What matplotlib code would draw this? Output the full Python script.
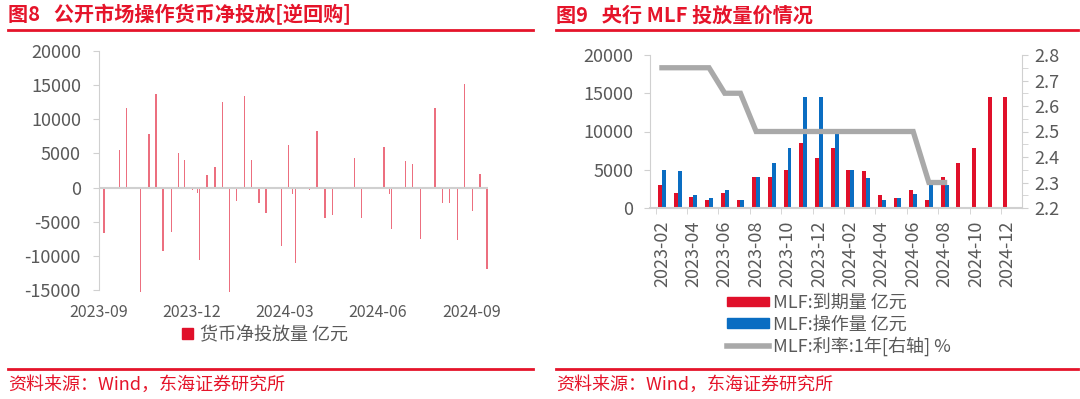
import matplotlib
matplotlib.use('Agg')
import matplotlib.pyplot as plt
import matplotlib.dates as mdates
from matplotlib.patches import Patch
from matplotlib.lines import Line2D
import numpy as np
import pandas as pd

plt.rcParams['font.family'] = ['Noto Sans CJK SC', 'DejaVu Sans']
plt.rcParams['axes.unicode_minus'] = False

# colors
red = '#E0102A'
blue = '#0A6DC2'
grey_line = '#A9A9A9'
title_red = '#E5142A'
txt = '#595959'
spine = '#D0D0D0'

# fig 8: net injection via reverse repo (亿元)
net_dates = ['2023-09-06', '2023-09-21', '2023-09-28', '2023-10-12', '2023-10-20', '2023-10-27',
             '2023-11-03', '2023-11-11', '2023-11-18', '2023-11-24', '2023-12-02', '2023-12-07',
             '2023-12-09', '2023-12-16', '2023-12-24', '2023-12-31', '2024-01-07', '2024-01-14',
             '2024-01-22', '2024-01-29', '2024-02-05', '2024-02-12', '2024-02-27', '2024-03-05',
             '2024-03-09', '2024-03-12', '2024-03-26', '2024-04-02', '2024-04-10', '2024-04-17',
             '2024-05-09', '2024-05-16', '2024-06-07', '2024-06-12', '2024-06-14', '2024-06-28',
             '2024-07-05', '2024-07-13', '2024-07-27', '2024-08-03', '2024-08-10', '2024-08-18',
             '2024-08-25', '2024-09-02', '2024-09-09', '2024-09-16']
net_values = [-6700, 5500, 11600, -15300, 7900, 13700,
              -9300, -6500, 5100, 4000, -400, -800,
              -10600, 1900, 3000, 12500, -15300, -1900,
              13400, 4100, -2300, -3700, -8500, 6200,
              -900, -11000, -300, 8300, -4500, -4000,
              4400, -4500, 6000, -900, -6000, 3900,
              3500, -7500, 11700, -2200, -2300, -7700,
              15200, -3500, 1950, -11900]
net_ticks = ['2023-09-01', '2023-12-01', '2024-03-01', '2024-06-01', '2024-09-01']

# fig 9: MLF
mlf_months = ['2023-02', '2023-03', '2023-04', '2023-05', '2023-06', '2023-07', '2023-08',
              '2023-09', '2023-10', '2023-11', '2023-12', '2024-01', '2024-02', '2024-03',
              '2024-04', '2024-05', '2024-06', '2024-07', '2024-08', '2024-09', '2024-10',
              '2024-11', '2024-12']
mlf_due = [3000, 2000, 1500, 1000, 2000, 1000, 4000, 4000, 5000, 8500, 6500, 7790,
           4990, 4810, 1700, 1250, 2370, 1030, 4010, 5910, 7890, 14500, 14500]
mlf_ops = [4990, 4810, 1700, 1250, 2370, 1030, 4010, 5910, 7890, 14500, 14500, 9950,
           5000, 3870, 1000, 1250, 1820, 3000, 3000]
mlf_rate = [2.75, 2.75, 2.75, 2.75, 2.65, 2.65, 2.50, 2.50, 2.50, 2.50, 2.50, 2.50,
            2.50, 2.50, 2.50, 2.50, 2.50, 2.30, 2.30]

fig = plt.figure(figsize=(10.8, 3.99), dpi=100)
W, H = 1080, 399


def fx(px):
    return px / W


def fy(py):
    return 1 - py / H


# headers / footers
for x0, x1, title in [(8, 533, '图8   公开市场操作货币净投放[逆回购]'),
                      (556, 1078, '图9   央行 MLF 投放量价情况')]:
    fig.text(fx(x0), fy(15), title, color=title_red, fontsize=14.5, fontweight='bold', va='center')
    fig.add_artist(Line2D([fx(x0), fx(x1)], [fy(30), fy(30)], color=title_red, lw=2))
    fig.add_artist(Line2D([fx(x0), fx(x1)], [fy(369), fy(369)], color=title_red, lw=2))
    fig.text(fx(x0), fy(385), '资料来源：Wind，东海证券研究所', color=title_red, fontsize=13, va='center')

# ---- fig 8
ax1 = fig.add_axes([fx(99), fy(290), fx(488 - 99), (290 - 51) / H])
d = pd.to_datetime(net_dates)
ax1.bar(d, net_values, width=1.3, color=red, alpha=0.6, clip_on=False)
ax1.axhline(0, color=spine, lw=1.5)
ax1.set_xlim(pd.Timestamp('2023-09-01'), pd.Timestamp('2024-09-17'))
ax1.set_ylim(-15000, 20000)
ax1.set_yticks(np.arange(-15000, 20001, 5000))
ax1.set_xticks(pd.to_datetime(net_ticks))
ax1.xaxis.set_major_formatter(mdates.DateFormatter('%Y-%m'))
for s in ['top', 'right', 'bottom']:
    ax1.spines[s].set_visible(False)
ax1.spines['left'].set_color(spine)
ax1.tick_params(axis='y', colors=spine, labelcolor=txt, labelsize=13, length=4, pad=9)
ax1.tick_params(axis='x', length=0, labelcolor=txt, labelsize=11.5, pad=10)
ax1.legend(handles=[Patch(color=red, label='货币净投放量 亿元')], loc='center',
           bbox_to_anchor=(fx(265), fy(335)), bbox_transform=fig.transFigure,
           frameon=False, fontsize=13, labelcolor=txt, handlelength=0.6, handleheight=0.6,
           handletextpad=0.4)

# ---- fig 9
ax2 = fig.add_axes([fx(650), fy(208), fx(1022 - 650), (208 - 55) / H])
x = np.arange(len(mlf_months))
bw = 0.25
ax2.bar(x - 0.125, mlf_due, width=bw, color=red)
ax2.bar(x[:len(mlf_ops)] + 0.125, mlf_ops, width=bw, color=blue)
ax2.set_xlim(-0.76, 22.93)
ax2.set_ylim(0, 20000)
ax2.set_yticks(np.arange(0, 20001, 5000))
ax2.set_xticks(x[::2])
ax2.set_xticklabels(mlf_months[::2], rotation=90)
ax2.set_xticks(x[::2] - 0.4, minor=True)
ax2.tick_params(axis='x', which='major', length=0, labelcolor=txt, labelsize=13, pad=9)
ax2.tick_params(axis='x', which='minor', length=4, color=spine)
ax2.tick_params(axis='y', colors=spine, labelcolor=txt, labelsize=13, length=4, pad=8)
for s in ['top', 'right']:
    ax2.spines[s].set_visible(False)
ax2.spines['left'].set_color(spine)
ax2.spines['bottom'].set_color(spine)
ax2.spines['bottom'].set_linewidth(1.5)

ax3 = ax2.twinx()
ax3.plot(x[:len(mlf_rate)], mlf_rate, color=grey_line, lw=3.8, solid_joinstyle='miter')
ax3.set_ylim(2.2, 2.8)
ax3.set_yticks(np.arange(2.2, 2.81, 0.1))
ax3.set_yticklabels([f'{v:.1f}' for v in np.arange(2.2, 2.81, 0.1)])
ax3.set_yticks(np.arange(2.25, 2.8, 0.1), minor=True)
ax3.tick_params(axis='y', which='both', colors=spine, labelcolor=txt, labelsize=13, length=4, pad=5)
for s in ['top', 'left', 'bottom']:
    ax3.spines[s].set_visible(False)
ax3.spines['right'].set_color(spine)

handles = [Patch(color=red, label='MLF:到期量 亿元'),
           Patch(color=blue, label='MLF:操作量 亿元'),
           Line2D([], [], color=grey_line, lw=4, label='MLF:利率:1年[右轴] %')]
fig.legend(handles=handles, loc='upper left', bbox_to_anchor=(fx(727), fy(294)),
           frameon=False, fontsize=13, labelcolor=txt, handlelength=2.3, handleheight=0.45,
           handletextpad=0.25, labelspacing=0.18, borderaxespad=0, borderpad=0)

fig.savefig('out.png', dpi=100)
